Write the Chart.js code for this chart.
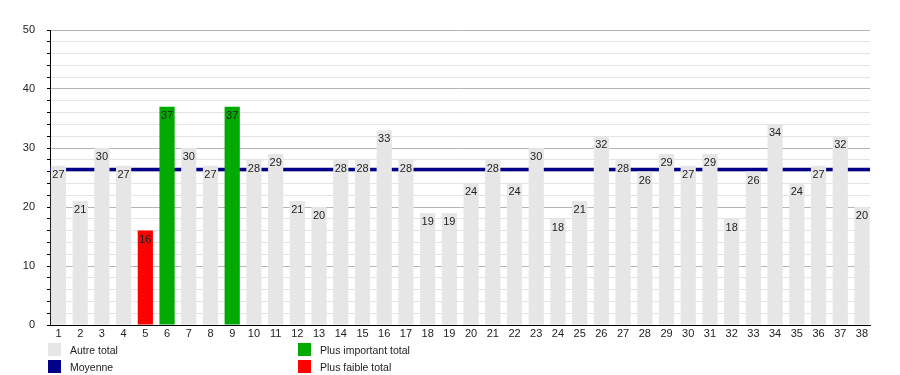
<!DOCTYPE html>
<html>
<head>
<meta charset="utf-8">
<script src="https://cdn.jsdelivr.net/npm/chart.js@4/dist/chart.umd.min.js"></script>
<style>
  html, body { margin: 0; padding: 0; background: #fff; }
  #wrap { position: relative; width: 900px; height: 375px; font-family: "Liberation Sans", Arial, sans-serif; }
  #c { position: absolute; left: 0; top: 0; }
  .lg { position: absolute; font-size: 10.5px; color: #222; line-height: 13px; white-space: nowrap; }
  .sw { position: absolute; width: 13px; height: 13px; }
</style>
</head>
<body>
<div id="wrap">
  <canvas id="c" width="900" height="375"></canvas>
</div>
<script>
const categories = [1,2,3,4,5,6,7,8,9,10,11,12,13,14,15,16,17,18,19,20,21,22,23,24,25,26,27,28,29,30,31,32,33,34,35,36,37,38];
const totals = [27,21,30,27,16,37,30,27,37,28,29,21,20,28,28,33,28,19,19,24,28,24,30,18,21,32,28,26,29,27,29,18,26,34,24,27,32,20];
const yTickLabels = [0,10,20,30,40,50];
const legendLabels = ["Autre total", "Moyenne", "Plus important total", "Plus faible total"];

const COL_OTHER = '#e6e6e6', COL_MEAN = '#000088', COL_MAX = '#00aa00', COL_MIN = '#ff0000';
const maxV = Math.max(...totals), minV = Math.min(...totals);
const mean = totals.reduce((a, b) => a + b, 0) / totals.length;
const barColors = totals.map(v => v === maxV ? COL_MAX : (v === minV ? COL_MIN : COL_OTHER));

const FONT = { family: '"Liberation Sans", Arial, sans-serif', size: 11 };

const meanLine = {
  id: 'meanLine',
  beforeDatasetsDraw(chart) {
    const { ctx, chartArea } = chart;
    const y = chart.scales.y.getPixelForValue(mean);
    ctx.save();
    ctx.strokeStyle = COL_MEAN;
    ctx.lineWidth = 3.5;
    ctx.beginPath();
    ctx.moveTo(chartArea.left, y);
    ctx.lineTo(chartArea.right, y);
    ctx.stroke();
    ctx.restore();
  }
};

const valueLabels = {
  id: 'valueLabels',
  afterDatasetsDraw(chart) {
    const { ctx } = chart;
    const meta = chart.getDatasetMeta(0);
    ctx.save();
    ctx.font = '11px "Liberation Sans", Arial, sans-serif';
    ctx.fillStyle = '#222';
    ctx.textAlign = 'center';
    ctx.textBaseline = 'middle';
    meta.data.forEach((el, i) => {
      ctx.fillText(String(totals[i]), el.x, el.y + 9);
    });
    ctx.restore();
  }
};

new Chart(document.getElementById('c'), {
  type: 'bar',
  data: {
    datasets: [{
      label: legendLabels[0],
      data: categories.map((c, i) => ({ x: c, y: totals[i] })),
      backgroundColor: barColors,
      borderWidth: 0,
      barPercentage: 0.7,
      categoryPercentage: 1.0
    }]
  },
  options: {
    responsive: false,
    animation: false,
    devicePixelRatio: 1,
    layout: { padding: { left: 0, right: 30, top: 30, bottom: 0 } },
    plugins: { legend: { display: false }, tooltip: { enabled: false } },
    scales: {
      x: {
        type: 'linear',
        offset: false,
        min: 0.61,
        max: 38.37,
        afterBuildTicks(scale) { scale.ticks = categories.map(v => ({ value: v })); },
        afterFit(scale) { scale.height = 50; },
        grid: { display: false, drawTicks: false, offset: false },
        border: { display: true, color: '#000', width: 1 },
        ticks: {
          font: FONT, color: '#222', padding: 2, maxRotation: 0, autoSkip: false,
          callback: v => String(v)
        }
      },
      y: {
        min: 0,
        max: 50,
        afterBuildTicks(scale) {
          const t = [];
          for (let v = 0; v <= 50; v += 2) t.push({ value: v });
          scale.ticks = t;
        },
        afterFit(scale) { scale.width = 50; },
        grid: {
          color: c => (c.tick && c.tick.value % 10 === 0) ? '#b4b4b4' : '#e4e4e4',
          lineWidth: 1,
          drawTicks: true,
          tickLength: 3,
          tickColor: '#000'
        },
        border: { display: true, color: '#000', width: 1 },
        ticks: {
          font: FONT, color: '#222', padding: 12, autoSkip: false,
          callback: v => yTickLabels.includes(v) ? String(v) : ''
        }
      }
    }
  },
  plugins: [meanLine, valueLabels]
});

// Legend
const wrap = document.getElementById('wrap');
const legendItems = [
  { label: legendLabels[0], color: COL_OTHER, x: 48, y: 343 },
  { label: legendLabels[1], color: COL_MEAN, x: 48, y: 360 },
  { label: legendLabels[2], color: COL_MAX, x: 298, y: 343 },
  { label: legendLabels[3], color: COL_MIN, x: 298, y: 360 }
];
legendItems.forEach(it => {
  const sw = document.createElement('div');
  sw.className = 'sw';
  sw.style.left = it.x + 'px';
  sw.style.top = it.y + 'px';
  sw.style.background = it.color;
  wrap.appendChild(sw);
  const t = document.createElement('div');
  t.className = 'lg';
  t.style.left = (it.x + 22) + 'px';
  t.style.top = (it.y + 1) + 'px';
  t.textContent = it.label;
  wrap.appendChild(t);
});
</script>
</body>
</html>
